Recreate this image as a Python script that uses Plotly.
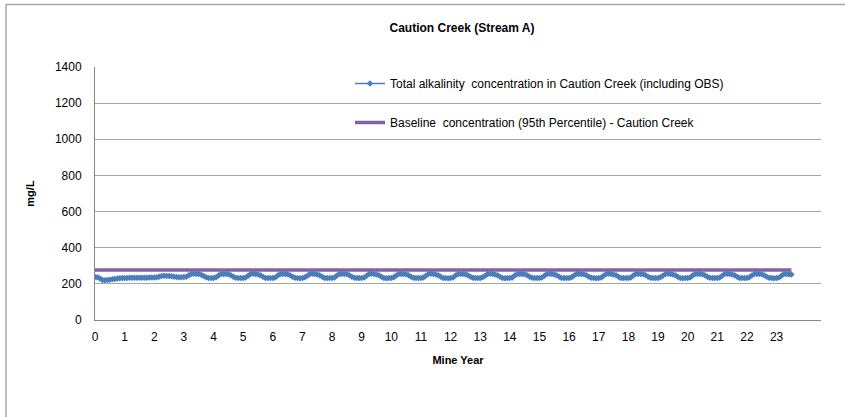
import plotly.graph_objects as go

# Monthly readings (mg/L), one list per mine year
year_values = [
    [238, 236, 229, 222, 220, 221, 223, 225, 227, 229, 231, 232],
    [233, 233, 234, 234, 234, 234, 234, 234, 234, 234, 235, 235],
    [235, 236, 240, 244, 245, 244, 243, 242, 240, 238, 237, 237],
    [238, 240, 248, 255, 256, 255, 254, 250, 243, 236, 233, 233],
    [233, 236, 246, 254, 255, 254, 253, 248, 240, 234, 232, 232],
    [233, 235, 245, 254, 256, 254, 252, 247, 239, 233, 232, 232],
    [232, 235, 246, 255, 255, 254, 253, 248, 240, 234, 232, 231],
    [232, 236, 245, 254, 256, 255, 252, 247, 239, 233, 232, 232],
    [233, 235, 246, 254, 255, 254, 253, 248, 240, 234, 232, 232],
    [232, 235, 245, 255, 256, 254, 252, 247, 239, 233, 231, 232],
    [233, 236, 246, 254, 255, 255, 253, 248, 240, 234, 232, 232],
    [232, 235, 245, 254, 256, 254, 252, 247, 239, 233, 232, 231],
    [233, 235, 246, 255, 255, 254, 253, 248, 240, 234, 232, 232],
    [232, 236, 245, 254, 256, 255, 252, 247, 239, 233, 231, 232],
    [233, 235, 246, 254, 255, 254, 253, 248, 240, 234, 232, 232],
    [232, 235, 245, 255, 256, 254, 252, 247, 239, 233, 232, 232],
    [233, 236, 246, 254, 255, 255, 253, 248, 240, 234, 232, 231],
    [232, 235, 245, 254, 256, 254, 252, 247, 239, 233, 232, 232],
    [233, 235, 246, 255, 255, 254, 253, 248, 240, 234, 232, 232],
    [232, 236, 245, 254, 256, 255, 252, 247, 239, 233, 231, 232],
    [233, 235, 246, 254, 255, 254, 253, 248, 240, 234, 232, 232],
    [232, 235, 245, 255, 256, 254, 252, 247, 239, 233, 232, 232],
    [233, 236, 246, 254, 255, 255, 253, 248, 240, 234, 232, 231],
    [232, 235, 245, 254, 255, 253, 252],
]
baseline_value = 276
year_ticks = list(range(0, 24))

series_name = "Total alkalinity  concentration in Caution Creek (including OBS)"
baseline_name = "Baseline  concentration (95th Percentile) - Caution Creek"

x_vals = []
y_vals = []
for yr, months in enumerate(year_values):
    for m, v in enumerate(months):
        x_vals.append(yr + m / 12)
        y_vals.append(v)

FONT = "Liberation Sans, Arial, sans-serif"

fig = go.Figure()
fig.add_trace(go.Scatter(
    x=x_vals, y=y_vals, mode="lines+markers", name=series_name,
    line=dict(color="#4a7ebb", width=1.5),
    marker=dict(symbol="diamond", size=5, color="#4a7ebb"),
    legendgroup="a",
))
fig.add_trace(go.Scatter(
    x=x_vals, y=[baseline_value] * len(x_vals), mode="lines", name=baseline_name,
    line=dict(color="#8064a2", width=3.5),
    legendgroup="b",
))

L, R, T, B = 95, 24, 67, 97
W, H = 845, 417
pw, ph = W - L - R, H - T - B

def px_x(p):
    return (p - L) / pw

def px_y(p):
    return (H - B - p) / ph

fig.add_shape(type="line", xref="paper", yref="paper",
              x0=px_x(6), x1=px_x(845), y0=px_y(4.5), y1=px_y(4.5),
              line=dict(color="#a6a6a6", width=1.5), layer="below")
fig.add_shape(type="line", xref="paper", yref="paper",
              x0=px_x(6), x1=px_x(6), y0=px_y(4), y1=px_y(417),
              line=dict(color="#a6a6a6", width=1.5), layer="below")

fig.update_layout(
    width=W, height=H,
    margin=dict(l=L, r=R, t=T, b=B),
    paper_bgcolor="white", plot_bgcolor="white",
    font=dict(family=FONT, size=12, color="#000000"),
    title=dict(text="<b>Caution Creek (Stream A)</b>", x=px_x(462), xanchor="center",
               xref="paper", y=1 - 28 / H, yanchor="middle",
               font=dict(size=12, family=FONT)),
    showlegend=True,
    legend=dict(x=px_x(350), y=px_y(69), xanchor="left", yanchor="top",
                bgcolor="rgba(0,0,0,0)", font=dict(size=12, family=FONT),
                traceorder="grouped", tracegroupgap=20),
    xaxis=dict(range=[0, 24.5], tickvals=year_ticks, ticktext=[str(t) for t in year_ticks],
               showgrid=False, showline=True, linecolor="#868686", linewidth=1,
               ticks="", zeroline=False, ticklabelstandoff=6,
               title=dict(text="<b>Mine Year</b>", font=dict(size=11, family=FONT), standoff=12),
               tickfont=dict(size=12)),
    yaxis=dict(range=[0, 1400], dtick=200, showgrid=True, gridcolor="#a6a6a6", gridwidth=1,
               showline=True, linecolor="#868686", linewidth=1, ticks="", zeroline=False,
               ticklabelstandoff=10,
               title=dict(text="<b>mg/L</b>", font=dict(size=11, family=FONT), standoff=18),
               tickfont=dict(size=12)),
)

fig.write_html("out.html", config={"displayModeBar": False},
               post_script="document.body.style.margin='0';document.body.style.overflow='hidden';")
